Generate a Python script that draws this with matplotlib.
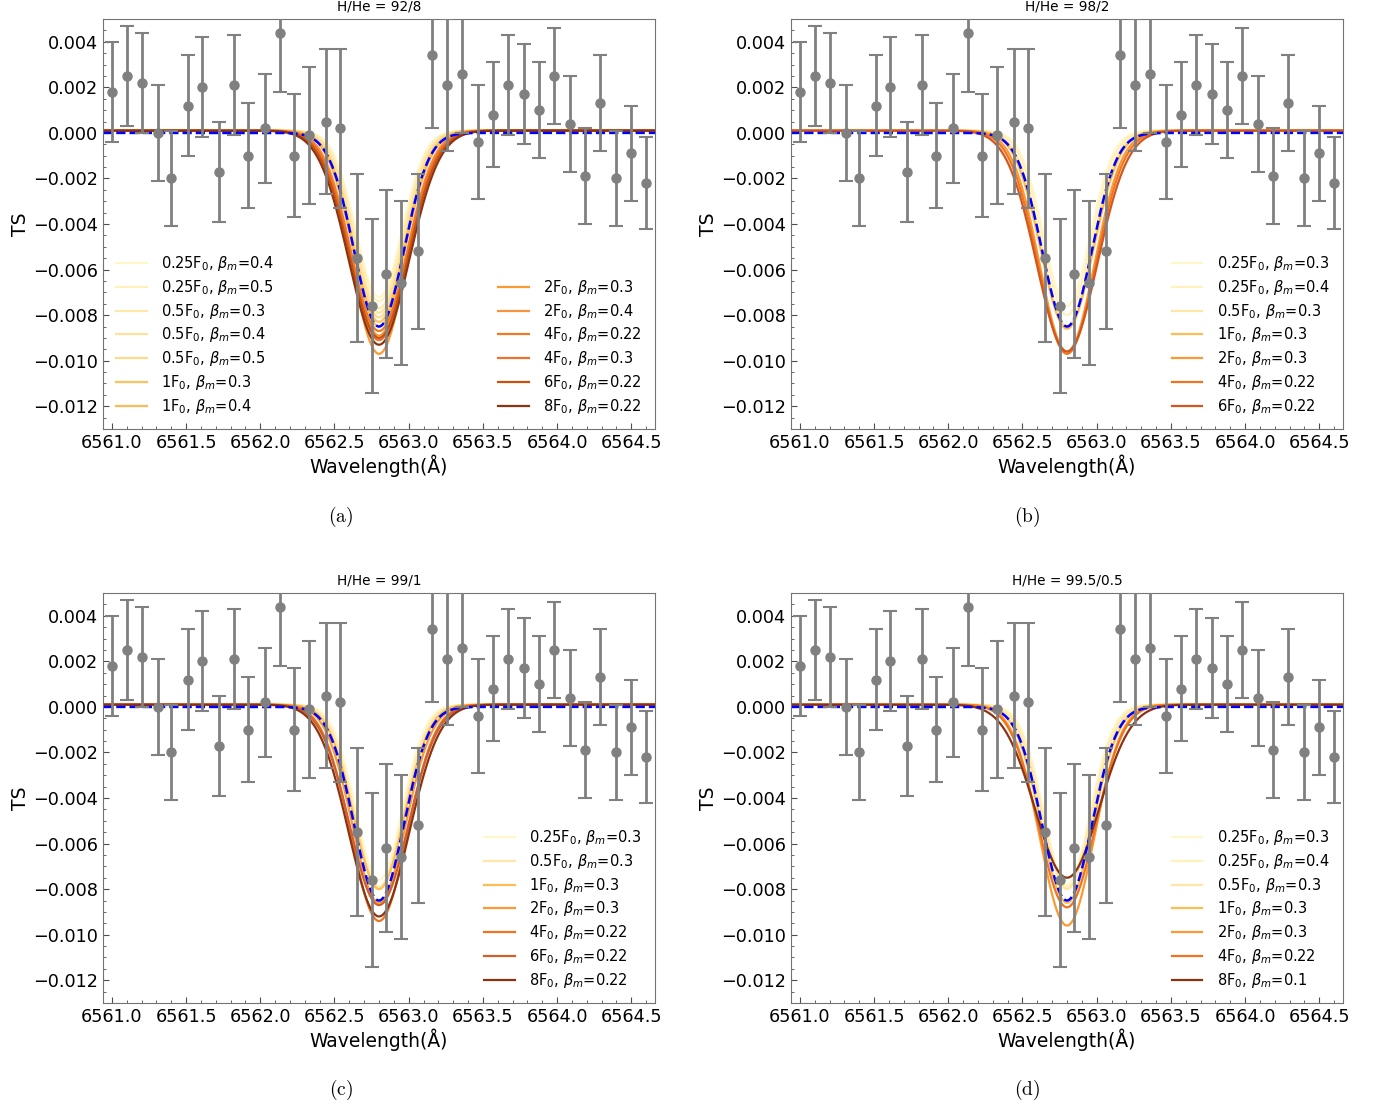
import matplotlib
matplotlib.use("Agg")
import matplotlib.pyplot as plt
import numpy as np

plt.rcParams['mathtext.fontset'] = 'dejavusans'

# transmission spectrum (same data in every panel)
wave_obs = np.array([6561.00, 6561.10, 6561.20, 6561.31, 6561.40, 6561.51, 6561.61, 6561.72,
                     6561.82, 6561.92, 6562.03, 6562.13, 6562.23, 6562.33, 6562.44, 6562.54,
                     6562.65, 6562.75, 6562.85, 6562.95, 6563.06, 6563.16, 6563.26, 6563.36,
                     6563.47, 6563.57, 6563.67, 6563.78, 6563.88, 6563.98, 6564.09, 6564.19,
                     6564.29, 6564.40, 6564.50, 6564.60])
ts_obs = np.array([0.0018, 0.0025, 0.0022, 0.0000, -0.0020, 0.0012, 0.0020, -0.0017,
                   0.0021, -0.0010, 0.0002, 0.0044, -0.0010, -0.0001, 0.0005, 0.0002,
                   -0.0055, -0.0076, -0.0062, -0.0066, -0.0052, 0.0034, 0.0021, 0.0026,
                   -0.0004, 0.0008, 0.0021, 0.0017, 0.0010, 0.0025, 0.0004, -0.0019,
                   0.0013, -0.0020, -0.0009, -0.0022])
ts_err = np.array([0.0022, 0.0022, 0.0022, 0.0021, 0.0021, 0.0022, 0.0022, 0.0022,
                   0.0022, 0.0023, 0.0024, 0.0026, 0.0027, 0.0030, 0.0032, 0.0035,
                   0.0037, 0.0038, 0.0037, 0.0036, 0.0034, 0.0032, 0.0029, 0.0026,
                   0.0025, 0.0023, 0.0022, 0.0022, 0.0021, 0.0021, 0.0021, 0.0021,
                   0.0021, 0.0021, 0.0021, 0.0020])

# best-fit gaussian (blue dashed)
fit_depth = 0.0085
fit_center = 6562.80
fit_sigma = 0.168

# model absorption profiles: label, depth, width
titles = ['H/He = 92/8', 'H/He = 98/2', 'H/He = 99/1', 'H/He = 99.5/0.5']

labels_a = ['0.25F$_0$, $\\beta_m$=0.4', '0.25F$_0$, $\\beta_m$=0.5', '0.5F$_0$, $\\beta_m$=0.3',
            '0.5F$_0$, $\\beta_m$=0.4', '0.5F$_0$, $\\beta_m$=0.5', '1F$_0$, $\\beta_m$=0.3',
            '1F$_0$, $\\beta_m$=0.4', '2F$_0$, $\\beta_m$=0.3', '2F$_0$, $\\beta_m$=0.4',
            '4F$_0$, $\\beta_m$=0.22', '4F$_0$, $\\beta_m$=0.3', '6F$_0$, $\\beta_m$=0.22',
            '8F$_0$, $\\beta_m$=0.22']
depth_a = [0.0073, 0.0075, 0.0078, 0.0080, 0.0082, 0.0084, 0.0086, 0.0098, 0.0090,
           0.0088, 0.0092, 0.0091, 0.0094]
width_a = [0.155, 0.158, 0.162, 0.165, 0.168, 0.172, 0.175, 0.182, 0.184,
           0.190, 0.192, 0.197, 0.203]

labels_b = ['0.25F$_0$, $\\beta_m$=0.3', '0.25F$_0$, $\\beta_m$=0.4', '0.5F$_0$, $\\beta_m$=0.3',
            '1F$_0$, $\\beta_m$=0.3', '2F$_0$, $\\beta_m$=0.3', '4F$_0$, $\\beta_m$=0.22',
            '6F$_0$, $\\beta_m$=0.22']
depth_b = [0.0077, 0.0081, 0.0086, 0.0087, 0.0097, 0.0098, 0.0097]
width_b = [0.155, 0.160, 0.168, 0.176, 0.184, 0.192, 0.203]

labels_c = ['0.25F$_0$, $\\beta_m$=0.3', '0.5F$_0$, $\\beta_m$=0.3', '1F$_0$, $\\beta_m$=0.3',
            '2F$_0$, $\\beta_m$=0.3', '4F$_0$, $\\beta_m$=0.22', '6F$_0$, $\\beta_m$=0.22',
            '8F$_0$, $\\beta_m$=0.22']
depth_c = [0.0077, 0.0080, 0.0081, 0.0087, 0.0095, 0.0088, 0.0093]
width_c = [0.155, 0.162, 0.170, 0.179, 0.188, 0.196, 0.203]

labels_d = ['0.25F$_0$, $\\beta_m$=0.3', '0.25F$_0$, $\\beta_m$=0.4', '0.5F$_0$, $\\beta_m$=0.3',
            '1F$_0$, $\\beta_m$=0.3', '2F$_0$, $\\beta_m$=0.3', '4F$_0$, $\\beta_m$=0.22',
            '8F$_0$, $\\beta_m$=0.1']
depth_d = [0.0079, 0.0080, 0.0081, 0.0087, 0.0097, 0.0089, 0.0076]
width_d = [0.155, 0.158, 0.165, 0.174, 0.182, 0.190, 0.214]

model_center = 6562.80
model_offset = 0.0001

# colours by flux
cols_a = ['#fff6c8', '#fff0bc', '#fee9ab', '#fee39c', '#fddb8c', '#fdc35c', '#fdba5a',
          '#fb9a35', '#f7943f', '#ee7a24', '#ea7230', '#c9520f', '#8c3412']
cols_b = ['#fff7c9', '#fff1bb', '#fee6a6', '#fdbd55', '#fb9a35', '#ee7620', '#d2561e']
cols_c = ['#fff7c9', '#fee7a8', '#fdbd55', '#fb9a35', '#ee7420', '#d0602e', '#8c3412']
cols_d = ['#fff7c9', '#fff1bb', '#fee6a6', '#fdbd55', '#fb9a35', '#ee7420', '#8c3412']

panels = [(titles[0], labels_a, depth_a, width_a, cols_a, 7),
          (titles[1], labels_b, depth_b, width_b, cols_b, 0),
          (titles[2], labels_c, depth_c, width_c, cols_c, 0),
          (titles[3], labels_d, depth_d, width_d, cols_d, 0)]

# axes boxes in figure pixels: left, top
W, H = 1385, 1107
boxes = [(103, 19), (791, 19), (103, 593), (791, 593)]
ax_w, ax_h = 552, 410
captions = ['a', 'b', 'c', 'd']
cap_xy = [(341, 517), (1027, 517), (341, 1090), (1027, 1090)]

wl = np.linspace(6560.94, 6564.66, 800)


def minus_fmt(v, pos):
    return ('%.3f' % v).replace('-', '\u2212')


fig = plt.figure(figsize=(W / 100, H / 100), dpi=100)

for k, (title, labels, depth, width, cols, nleft) in enumerate(panels):
    left, top = boxes[k]
    ax = fig.add_axes([left / W, 1 - (top + ax_h) / H, ax_w / W, ax_h / H])

    lines = []
    for lab, d, s, c in zip(labels, depth, width, cols):
        prof = model_offset - d * np.exp(-0.5 * ((wl - model_center) / s) ** 2)
        ln, = ax.plot(wl, prof, color=c, lw=1.6, label=lab)
        lines.append(ln)

    fit = -fit_depth * np.exp(-0.5 * ((wl - fit_center) / fit_sigma) ** 2)
    ax.plot(wl, fit, color='blue', ls='--', lw=1.8)

    ax.errorbar(wave_obs, ts_obs, yerr=ts_err, fmt='o', color='gray', ms=6.5,
                elinewidth=2, capsize=5, capthick=1.5, zorder=5)

    ax.set_xlim(6560.94, 6564.66)
    ax.set_ylim(-0.013, 0.005)
    ax.set_xticks(np.arange(6561.0, 6564.6, 0.5))
    ax.set_yticks(np.arange(-0.012, 0.0041, 0.002))
    ax.xaxis.set_minor_locator(matplotlib.ticker.MultipleLocator(0.1))
    ax.yaxis.set_minor_locator(matplotlib.ticker.MultipleLocator(0.0005))
    ax.yaxis.set_major_formatter(matplotlib.ticker.FuncFormatter(minus_fmt))
    ax.tick_params(which='both', direction='in', labelsize=12.7, color='0.3')
    ax.tick_params(which='major', length=4)
    ax.tick_params(which='minor', length=2)
    for sp in ax.spines.values():
        sp.set_color('0.45')

    ax.set_xlabel('Wavelength(Å)', fontsize=13.5, labelpad=2)
    ax.set_ylabel('TS', fontsize=13.5, labelpad=2)
    ax.set_title(title, fontsize=9.8, pad=6)

    legkw = dict(frameon=False, fontsize=10.5, handlelength=2.1,
                 handletextpad=1.0, labelspacing=0.33)
    if nleft:
        leg1 = ax.legend(handles=lines[:nleft], loc='lower left', **legkw)
        ax.add_artist(leg1)
        ax.legend(handles=lines[nleft:], loc='lower right', **legkw)
    else:
        ax.legend(handles=lines, loc='lower right', **legkw)

    cx, cy = cap_xy[k]
    fig.text(cx / W, 1 - cy / H, r'$(\mathrm{%s})$' % captions[k], ha='center',
             va='center', fontsize=14, math_fontfamily='cm')

fig.savefig('out.png', dpi=100)
